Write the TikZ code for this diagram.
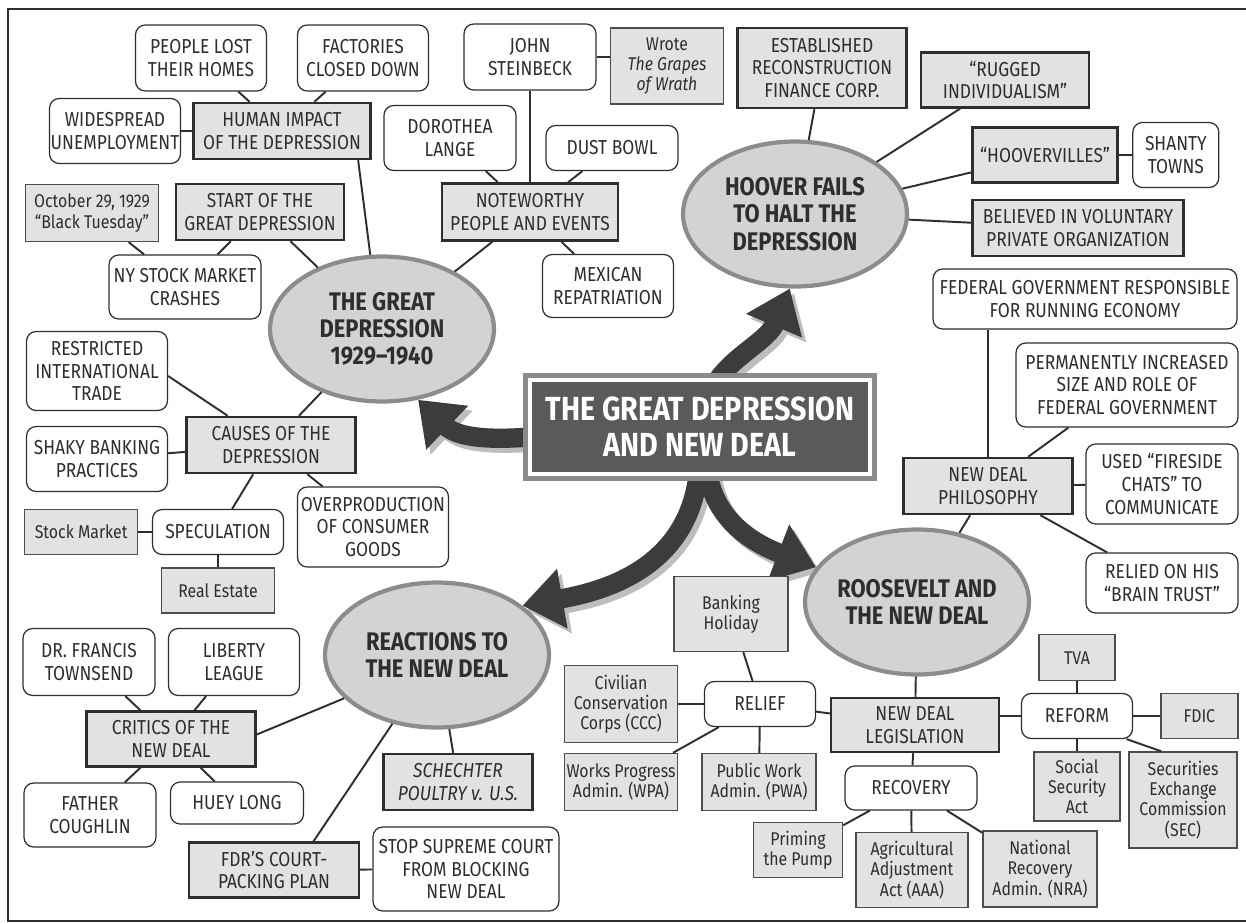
\documentclass[tikz,border=0pt]{standalone}
\usepackage{fontspec}
\setmainfont[FakeStretch=0.86]{Fira Sans}
\usepackage{tikz}
\usetikzlibrary{positioning}
\usetikzlibrary{backgrounds}
\usetikzlibrary{shapes.geometric}
\usetikzlibrary{arrows.meta}

\definecolor{ink}{HTML}{2E2E2E}
\definecolor{boxgray}{HTML}{E2E2E2}
\definecolor{ovalgray}{HTML}{D3D3D3}
\definecolor{ovalrim}{HTML}{8C8C8C}
\definecolor{titlegray}{HTML}{5A5A5A}
\definecolor{titlerim}{HTML}{8A8A8A}
\definecolor{arrowgray}{HTML}{3C3C3C}
\definecolor{shadegray}{HTML}{BDBDBD}

\tikzset{
	fact/.style = {draw=ink, fill=white, rounded corners=5.5pt, line width=0.7pt, inner sep=0pt, align=center, text=ink, font=\fontsize{11.5}{13}\selectfont},
	topic/.style = {draw=ink, fill=boxgray, line width=1.4pt, inner sep=0pt, align=center, text=ink, font=\fontsize{11.5}{13}\selectfont},
	detail/.style = {draw=ink!85, fill=boxgray, line width=0.8pt, inner sep=0pt, align=center, text=ink, font=\fontsize{10.5}{11.5}\selectfont},
	theme/.style = {ellipse, draw=ovalrim, fill=ovalgray, line width=2.4pt, inner sep=-6pt, minimum width=4.48cm, minimum height=2.9cm, align=center, text=ink, font=\bfseries\fontsize{14.5}{15.5}\selectfont},
	headbox/.style = {fill=titlegray, draw=white, line width=2.3pt, outer sep=0pt, inner sep=0pt, minimum width=6.8cm, minimum height=1.88cm, align=center, text=white, font=\bfseries\fontsize{19}{20.5}\selectfont},
	link/.style = {draw=ink, line width=1.1pt},
	bigarrow/.style = {line width=11pt, -{Triangle[length=23pt,width=33pt]}},
}

\begin{document}
\begin{tikzpicture}[x=0.02cm, y=-0.02cm]
		\useasboundingbox (0,0) rectangle (1246,923);
		\draw[ink, line width=1.1pt] (1246,9) -- (8,9) -- (8,921) -- (1246,921);

		% centre
		\node[headbox] at (700,427) (t) {THE GREAT DEPRESSION\\AND NEW DEAL};
		\draw[titlerim, line width=2.8pt] ([shift={(-2.55pt,2.55pt)}]t.north west) rectangle ([shift={(2.55pt,-2.55pt)}]t.south east);

		% the great depression
		\node[theme] at (382,329) (gd) {THE GREAT\\DEPRESSION\\1929–1940};
		\node[topic, minimum width=3.54cm, minimum height=1.12cm] at (282,131) (human) {HUMAN IMPACT\\OF THE DEPRESSION};
		\node[fact, minimum width=2.62cm, minimum height=1.32cm] at (201,58) (homes) {PEOPLE LOST\\THEIR HOMES};
		\node[fact, minimum width=2.62cm, minimum height=1.32cm] at (363,58) (factories) {FACTORIES\\CLOSED DOWN};
		\node[fact, minimum width=2.62cm, minimum height=1.3cm] at (115,131) (unemp) {WIDESPREAD\\UNEMPLOYMENT};
		\node[topic, minimum width=3.36cm, minimum height=1.12cm] at (260,212) (start) {START OF THE\\GREAT DEPRESSION};
		\node[detail, minimum width=2.66cm, minimum height=1.14cm] at (92,213) (tuesday) {October 29, 1929\\“Black Tuesday”};
		\node[fact, minimum width=3.04cm, minimum height=1.28cm] at (185,287) (crash) {NY STOCK MARKET\\CRASHES};
		\node[topic, minimum width=3.52cm, minimum height=1.14cm] at (530,212) (people) {NOTEWORTHY\\PEOPLE AND EVENTS};
		\node[fact, minimum width=2.64cm, minimum height=1.32cm] at (530,57) (steinbeck) {JOHN\\STEINBECK};
		\node[detail, minimum width=2.26cm, minimum height=1.52cm] at (667,66) (grapes) {Wrote\\\textit{The Grapes}\\\textit{of Wrath}};
		\node[fact, minimum width=2.64cm, minimum height=1.3cm] at (450,138) (lange) {DOROTHEA\\LANGE};
		\node[fact, minimum width=2.64cm, minimum height=0.9cm] at (612,148) (dust) {DUST BOWL};
		\node[fact, minimum width=2.62cm, minimum height=1.26cm] at (608,286) (mexican) {MEXICAN\\REPATRIATION};
		\node[topic, minimum width=3.38cm, minimum height=1.12cm] at (271,445) (causes) {CAUSES OF THE\\DEPRESSION};
		\node[fact, minimum width=2.82cm, minimum height=1.58cm] at (97,371) (trade) {RESTRICTED\\INTERNATIONAL\\TRADE};
		\node[fact, minimum width=2.82cm, minimum height=1.3cm] at (97,459) (banking) {SHAKY BANKING\\PRACTICES};
		\node[fact, minimum width=3.02cm, minimum height=1.6cm] at (373,527) (overprod) {OVERPRODUCTION\\OF CONSUMER\\GOODS};
		\node[fact, minimum width=2.62cm, minimum height=0.9cm] at (218,532) (spec) {SPECULATION};
		\node[detail, left = 0.27cm of spec, minimum width=2.26cm, minimum height=0.9cm] (stock) {Stock Market};
		\node[detail, below = 0.24cm of spec, minimum width=2.26cm, minimum height=0.9cm] (estate) {Real Estate};

		\draw[link] (unemp) -- (human);
		\draw[link] (homes) -- (human);
		\draw[link] (factories) -- (human);
		\draw[link] (human.-21) -- (gd.99);
		\draw[link] (tuesday) -- (crash);
		\draw[link] (start) -- (crash);
		\draw[link] (start) -- (gd);
		\draw[link] (steinbeck) -- (people);
		\draw[link] (steinbeck.east) -- (steinbeck.east -| grapes.west);
		\draw[link] (lange) -- (people);
		\draw[link] (dust) -- (people);
		\draw[link] (people) -- (gd);
		\draw[link] (people) -- (mexican);
		\draw[link] (gd) -- (causes);
		\draw[link] (trade.-4) -- (causes.146);
		\draw[link] (banking) -- (causes);
		\draw[link] (causes) -- (spec);
		\draw[link] (causes) -- (overprod);
		\draw[link] (stock) -- (spec);
		\draw[link] (spec) -- (estate);

		% hoover
		\node[theme] at (795,214) (hoover) {HOOVER FAILS\\TO HALT THE\\DEPRESSION};
		\node[topic, minimum width=3.38cm, minimum height=1.6cm] at (822,68) (rfc) {ESTABLISHED\\RECONSTRUCTION\\FINANCE CORP.};
		\node[topic, minimum width=3.36cm, minimum height=1.1cm] at (1005,80) (rugged) {“RUGGED\\INDIVIDUALISM”};
		\node[topic, minimum width=2.9cm, minimum height=1.1cm] at (1045,155) (hvilles) {“HOOVERVILLES”};
		\node[fact, right = 0.27cm of hvilles, minimum width=1.72cm, minimum height=1.3cm] (shanty) {SHANTY\\TOWNS};
		\node[topic, minimum width=4.22cm, minimum height=1.12cm] at (1078,228) (voluntary) {BELIEVED IN VOLUNTARY\\PRIVATE ORGANIZATION};

		\draw[link] (rfc) -- (hoover);
		\draw[link] (rugged) -- (hoover);
		\draw[link] (hvilles) -- (hoover);
		\draw[link] (hvilles) -- (shanty);
		\draw[link] (voluntary) -- (hoover);

		% roosevelt
		\node[theme] at (917,602) (fdr) {ROOSEVELT AND\\THE NEW DEAL};
		\node[topic, minimum width=3.38cm, minimum height=1.12cm] at (988,486) (philo) {NEW DEAL\\PHILOSOPHY};
		\node[fact, minimum width=6.08cm, minimum height=1.2cm] at (1085,299) (economy) {FEDERAL GOVERNMENT RESPONSIBLE\\FOR RUNNING ECONOMY};
		\node[fact, minimum width=4.44cm, minimum height=1.68cm] at (1127,385) (size) {PERMANENTLY INCREASED\\SIZE AND ROLE OF\\FEDERAL GOVERNMENT};
		\node[fact, minimum width=3.04cm, minimum height=1.6cm] at (1162,484) (chats) {USED “FIRESIDE\\CHATS” TO\\COMMUNICATE};
		\node[fact, minimum width=3.04cm, minimum height=1.2cm] at (1162,583) (brain) {RELIED ON HIS\\“BRAIN TRUST”};
		\node[topic, minimum width=3.36cm, minimum height=1.08cm] at (915,725) (laws) {NEW DEAL\\LEGISLATION};
		\node[fact, minimum width=2.22cm, minimum height=0.9cm] at (760,704) (relief) {RELIEF};
		\node[detail, minimum width=2.28cm, minimum height=1.5cm] at (731,614) (holiday) {Banking\\Holiday};
		\node[detail, minimum width=2.26cm, minimum height=1.54cm] at (621,704) (ccc) {Civilian\\Conservation\\Corps (CCC)};
		\node[detail, minimum width=2.26cm, minimum height=1.14cm] at (621,782) (wpa) {Works Progress\\Admin. (WPA)};
		\node[detail, minimum width=2.28cm, minimum height=1.14cm] at (759,782) (pwa) {Public Work\\Admin. (PWA)};
		\node[fact, minimum width=2.64cm, minimum height=0.88cm] at (911,788) (recovery) {RECOVERY};
		\node[detail, minimum width=1.78cm, minimum height=1.1cm] at (798,850) (pump) {Priming\\the Pump};
		\node[detail, minimum width=2.24cm, minimum height=1.5cm] at (912,870) (aaa) {Agricultural\\Adjustment\\Act (AAA)};
		\node[detail, minimum width=2.28cm, minimum height=1.52cm] at (1040,869) (nra) {National\\Recovery\\Admin. (NRA)};
		\node[fact, minimum width=2.22cm, minimum height=0.9cm] at (1077,716) (reform) {REFORM};
		\node[detail, above = 0.23cm of reform, minimum width=1.52cm, minimum height=0.92cm] (tva) {TVA};
		\node[detail, right = 0.54cm of reform, minimum width=1.54cm, minimum height=0.9cm] (fdic) {FDIC};
		\node[detail, below = 0.24cm of reform, minimum width=1.72cm, minimum height=1.38cm] (ssa) {Social\\Security\\Act};
		\node[detail, minimum width=2.16cm, minimum height=1.92cm] at (1183,800) (sec) {Securities\\Exchange\\Commission\\(SEC)};

		\draw[link] (philo.north) -- (philo.north |- economy.south);
		\draw[link] (size) -- (philo);
		\draw[link] (philo) -- (chats);
		\draw[link] (philo) -- (brain);
		\draw[link] (philo) -- (fdr);
		\draw[link] (fdr) -- (laws);
		\draw[link] (laws) -- (relief);
		\draw[link] (holiday) -- (relief);
		\draw[link] (ccc) -- (relief);
		\draw[link] (relief) -- (wpa);
		\draw[link] (relief) -- (pwa);
		\draw[link] (laws) -- (recovery);
		\draw[link] (reform.west) -- (reform.west -| laws.east);
		\draw[link] (recovery) -- (pump);
		\draw[link] (recovery) -- (aaa);
		\draw[link] (recovery) -- (nra);
		\draw[link] (reform) -- (tva);
		\draw[link] (reform) -- (fdic);
		\draw[link] (reform) -- (ssa);
		\draw[link] (reform.-25) -- (sec.114);

		% reactions
		\node[theme] at (437,655) (react) {REACTIONS TO\\THE NEW DEAL};
		\node[topic, minimum width=3.38cm, minimum height=1.1cm] at (171,739) (critics) {CRITICS OF THE\\NEW DEAL};
		\node[fact, minimum width=2.64cm, minimum height=1.34cm] at (89,662) (townsend) {DR. FRANCIS\\TOWNSEND};
		\node[fact, minimum width=2.62cm, minimum height=1.34cm] at (234,662) (liberty) {LIBERTY\\LEAGUE};
		\node[fact, minimum width=2.64cm, minimum height=1.28cm] at (90,815) (coughlin) {FATHER\\COUGHLIN};
		\node[fact, minimum width=2.66cm, minimum height=0.84cm] at (237,803) (huey) {HUEY LONG};
		\node[topic, minimum width=2.98cm, minimum height=1.12cm] at (458,782) (schechter) {\textit{SCHECHTER}\\\textit{POULTRY v. U.S.}};
		\node[topic, minimum width=3.4cm, minimum height=1.1cm] at (274,870) (packing) {FDR’S COURT-\\PACKING PLAN};
		\node[fact, minimum width=3.72cm, minimum height=1.68cm] at (466,869) (court) {STOP SUPREME COURT\\FROM BLOCKING\\NEW DEAL};

		\draw[link] (townsend) -- (critics);
		\draw[link] (liberty) -- (critics);
		\draw[link] (critics) -- (coughlin);
		\draw[link] (critics) -- (huey);
		\draw[link] (critics.3) -- (react.205);
		\draw[link] (react) -- (schechter);
		\draw[link] (react.-123) -- (packing.36);
		\draw[link] (packing) -- (court);

		% big arrows out of the centre
		\begin{scope}[on background layer]
			\begin{scope}[transform canvas={shift={(2.5pt,-2.8pt)}}]
				\draw[bigarrow, shadegray] ([yshift=-5.7pt]t.west) .. controls (490,440) and (458,438) .. (gd.-63);
				\draw[bigarrow, shadegray] ([xshift=10pt]t.north) .. controls (735,355) and (768,340) .. (hoover.-94);
				\draw[bigarrow, shadegray] ([xshift=4.5pt]t.south) .. controls (715,515) and (745,540) .. (fdr.161);
				\draw[bigarrow, shadegray] ([xshift=-1pt]t.south) .. controls (690,545) and (640,585) .. (react.30);
			\end{scope}
			\draw[bigarrow, arrowgray] ([yshift=-5.7pt]t.west) .. controls (490,440) and (458,438) .. (gd.-63);
			\draw[bigarrow, arrowgray] ([xshift=10pt]t.north) .. controls (735,355) and (768,340) .. (hoover.-94);
			\draw[bigarrow, arrowgray] ([xshift=4.5pt]t.south) .. controls (715,515) and (745,540) .. (fdr.161);
			\draw[bigarrow, arrowgray] ([xshift=-1pt]t.south) .. controls (690,545) and (640,585) .. (react.30);
		\end{scope}
	\end{tikzpicture}
\end{document}
